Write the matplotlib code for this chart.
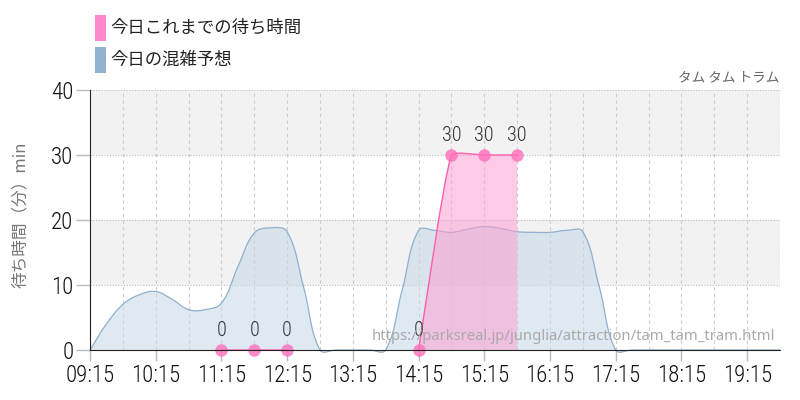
import matplotlib
matplotlib.use("Agg")
import matplotlib.pyplot as plt
import numpy as np
from matplotlib.path import Path
from matplotlib.patches import PathPatch, Rectangle

# forecast every 15 minutes from 09:15 to 19:45
forecast_start = "09:15"
forecast = [0, 4.0, 7.0, 8.5, 9.0, 7.8, 6.2, 6.2, 7.2, 12.8, 18.0, 18.8, 18.2, 9.7, 0,
            0, 0, 0, 0, 9.2, 18.4, 18.4, 18.1, 18.6, 19.0, 18.7, 18.2, 18.1, 18.1, 18.4,
            18.2, 9.7, 0, 0, 0, 0, 0, 0, 0, 0, 0, 0, 0]

# actual waits so far, split where the data has a gap
actual_segments = [
    (["11:15", "11:45", "12:15"], [0, 0, 0]),
    (["14:15", "14:45", "15:15", "15:45"], [0, 30, 30, 30]),
]

tick_labels = ["09:15", "10:15", "11:15", "12:15", "13:15", "14:15",
               "15:15", "16:15", "17:15", "18:15", "19:15"]

legend_labels = ["今日これまでの待ち時間", "今日の混雑予想"]
ride_name = "タム タム トラム"
source_url = "https://parksreal.jp/junglia/attraction/tam_tam_tram.html"
ylabel = "待ち時間（分）min"

PINK = "#ff5fb0"
BLUE = "#8fb1cf"
NUM_FONT = ["Roboto Condensed", "DejaVu Sans"]
JP_FONT = ["Noto Sans CJK JP", "DejaVu Sans"]


def to_hours(s):
    h, m = s.split(":")
    return int(h) + int(m) / 60


def bezier_path(ax, xs, ys, tension=0.4, close_to_zero=False):
    # chart.js-style smooth curve, control points worked out in pixel space
    pts = ax.transData.transform(np.column_stack([xs, ys]))
    n = len(pts)
    cps = []
    for i in range(n):
        p0 = pts[max(i - 1, 0)]
        p1 = pts[i]
        p2 = pts[min(i + 1, n - 1)]
        d01 = np.hypot(*(p1 - p0))
        d12 = np.hypot(*(p2 - p1))
        tot = d01 + d12
        s01 = d01 / tot if tot else 0
        s12 = d12 / tot if tot else 0
        cps.append((p1 - tension * s01 * (p2 - p0), p1 + tension * s12 * (p2 - p0)))
    verts = [pts[0]]
    codes = [Path.MOVETO]
    for i in range(n - 1):
        verts += [cps[i][1], cps[i + 1][0], pts[i + 1]]
        codes += [Path.CURVE4] * 3
    if close_to_zero:
        z = ax.transData.transform([[xs[-1], 0], [xs[0], 0]])
        verts += [z[0], z[1], pts[0]]
        codes += [Path.LINETO, Path.LINETO, Path.CLOSEPOLY]
    inv = ax.transData.inverted()
    return Path(inv.transform(np.array(verts)), codes)


fig = plt.figure(figsize=(8, 4), dpi=100)
ax = fig.add_axes([0.1125, 0.125, 0.8625, 0.65])
ax.set_xlim(9.25, 19.75)
ax.set_ylim(0, 40)

# alternating bands
for lo in (10, 30):
    ax.axhspan(lo, lo + 10, color="#f2f2f2", zorder=0, lw=0)
for y in (10, 20, 30, 40):
    ax.axhline(y, color="#bbbbbb", lw=0.8, ls=(0, (1, 1.5)), zorder=1)
half_hours = np.arange(9.75, 19.76, 0.5)
for x in half_hours:
    ax.axvline(x, color="#cccccc", lw=0.8, ls=(0, (3, 3)), zorder=1)

fx = to_hours(forecast_start) + np.arange(len(forecast)) * 0.25
fill = PathPatch(bezier_path(ax, fx, forecast, close_to_zero=True),
                 facecolor="#c5d8e8", alpha=0.55, edgecolor="none", zorder=2,
                 clip_on=False)
ax.add_patch(fill)
line = PathPatch(bezier_path(ax, fx, forecast), facecolor="none",
                 edgecolor=BLUE, lw=0.9, zorder=3, clip_on=False)
ax.add_patch(line)

for times, vals in actual_segments:
    xs = np.array([to_hours(t) for t in times])
    if max(vals) > 0:
        ax.add_patch(PathPatch(bezier_path(ax, xs, vals, tension=0.15, close_to_zero=True),
                               facecolor="#ff9fd2", alpha=0.55, edgecolor="none", zorder=4))
    ax.add_patch(PathPatch(bezier_path(ax, xs, vals, tension=0.15), facecolor="none",
                           edgecolor=PINK, lw=1.0, zorder=5))
    ax.plot(xs, vals, "o", ms=9, color="#ff6fbd", alpha=0.8, mec="none",
            zorder=6, clip_on=False)
    for x, v in zip(xs, vals):
        ax.annotate(str(v), (x, v), xytext=(0, 7), textcoords="offset points",
                    ha="center", va="bottom", fontsize=14.5, color="#333333",
                    family=NUM_FONT, weight="light", zorder=7)

ax.set_xticks([to_hours(t) for t in tick_labels])
ax.set_xticklabels(tick_labels, family=NUM_FONT, fontsize=16.5, color="#111111",
                   weight="light")
ax.set_yticks([0, 10, 20, 30, 40])
ax.set_yticklabels(["0", "10", "20", "30", "40"], family=NUM_FONT, fontsize=16.5,
                   color="#111111", weight="light")
ax.tick_params(axis="both", length=10, width=1, color="#bbbbbb", pad=2)
ax.tick_params(axis="x", length=8)

for side in ("top", "right"):
    ax.spines[side].set_visible(False)
ax.spines["left"].set_color("#222222")
ax.spines["bottom"].set_color("#222222")
ax.spines["left"].set_zorder(8)
ax.spines["bottom"].set_zorder(8)

fig.text(0.025, 0.463, ylabel, rotation=90, ha="center", va="center",
         fontsize=12, color="#777777", family=JP_FONT)

# legend
for i, (lab, col) in enumerate(zip(legend_labels, ["#ff88cc", BLUE])):
    y_top = 15 + i * 32
    fig.add_artist(Rectangle((95 / 800, 1 - (y_top + 26) / 400), 11 / 800, 26 / 400,
                             transform=fig.transFigure, color=col, lw=0))
    fig.text(110 / 800, 1 - (y_top + 13) / 400, lab, ha="left", va="center",
             fontsize=12.5, color="#222222", family=JP_FONT)

fig.text(779 / 800, 1 - 77 / 400, ride_name, ha="right", va="center",
         fontsize=9.8, color="#666666", family=JP_FONT)
fig.text(775 / 800, 1 - 337 / 400, source_url, ha="right", va="center",
         fontsize=10.7, color="#aaaaaa", family=["Noto Sans", "DejaVu Sans"], zorder=10)

fig.savefig("out.png", dpi=100)
